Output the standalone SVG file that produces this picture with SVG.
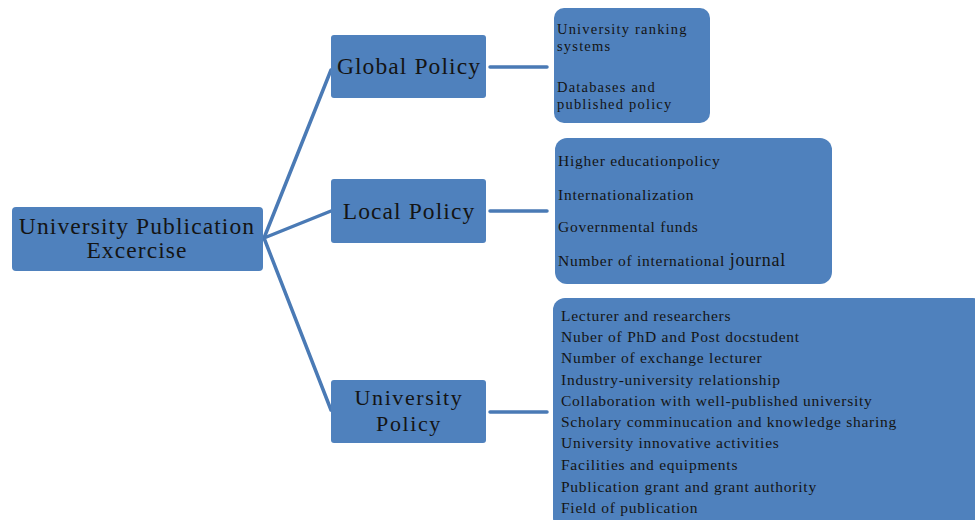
<svg xmlns="http://www.w3.org/2000/svg" width="975" height="520" viewBox="0 0 975 520">
<style>
.box{fill:#4f81bd;}
.t{font-family:"Liberation Serif","Times New Roman",serif;fill:#141414;}
.big{font-size:23.5px;text-anchor:middle;letter-spacing:1.1px;}
.big2{font-size:22px;text-anchor:middle;letter-spacing:1.6px;}
.sm{font-size:15.5px;letter-spacing:0.75px;}
.gd{font-size:14.5px;letter-spacing:1.2px;}
.c{stroke:#4a7ab5;stroke-width:3.5;fill:none;stroke-linecap:round;}
</style>
<rect width="975" height="520" fill="#ffffff"/>
<g id="connectors">
<path class="c" d="M264 238 L331 70"/>
<path class="c" d="M264 238 L331 211"/>
<path class="c" d="M264 238 L331 410"/>
<path class="c" d="M490 67 L547 67"/>
<path class="c" d="M490 211 L547 211"/>
<path class="c" d="M490 412 L547 412"/>
</g>
<g id="root">
<rect class="box" x="12" y="207" width="251" height="64" rx="4"/>
<text class="t big" x="137" y="234">University Publication</text>
<text class="t big" x="137" y="258">Excercise</text>
</g>
<g id="global">
<rect class="box" x="331" y="35" width="155" height="63" rx="3"/>
<text class="t big" x="409" y="74">Global Policy</text>
</g>
<g id="local">
<rect class="box" x="331" y="179" width="155" height="64" rx="3"/>
<text class="t big" x="409" y="219">Local Policy</text>
</g>
<g id="university">
<rect class="box" x="331" y="380" width="155" height="63" rx="3"/>
<text class="t big2" x="409" y="405">University</text>
<text class="t big2" x="409" y="431">Policy</text>
</g>
<g id="global-details">
<rect class="box" x="554" y="8" width="156" height="115" rx="10"/>
<text class="t gd" x="557" y="34">University ranking</text>
<text class="t gd" x="557" y="51">systems</text>
<text class="t gd" x="557" y="92">Databases and</text>
<text class="t gd" x="557" y="109">published policy</text>
</g>
<g id="local-details">
<rect class="box" x="555" y="138" width="277" height="146" rx="12"/>
<text class="t sm" x="558" y="166">Higher educationpolicy</text>
<text class="t sm" x="558" y="200">Internationalization</text>
<text class="t sm" x="558" y="232">Governmental funds</text>
<text class="t sm" x="558" y="266">Number of international <tspan font-size="18">journal</tspan></text>
</g>
<g id="university-details">
<rect class="box" x="553" y="298" width="432" height="232" rx="12"/>
<text class="t sm" x="561" y="321">Lecturer and researchers</text>
<text class="t sm" x="561" y="342">Nuber of PhD and Post  docstudent</text>
<text class="t sm" x="561" y="363">Number of exchange lecturer</text>
<text class="t sm" x="561" y="385">Industry-university relationship</text>
<text class="t sm" x="561" y="406">Collaboration with well-published university</text>
<text class="t sm" x="561" y="427">Scholary comminucation  and knowledge sharing</text>
<text class="t sm" x="561" y="448">University innovative activities</text>
<text class="t sm" x="561" y="470">Facilities and equipments</text>
<text class="t sm" x="561" y="492">Publication grant and grant authority</text>
<text class="t sm" x="561" y="513">Field of publication</text>
</g>
</svg>
